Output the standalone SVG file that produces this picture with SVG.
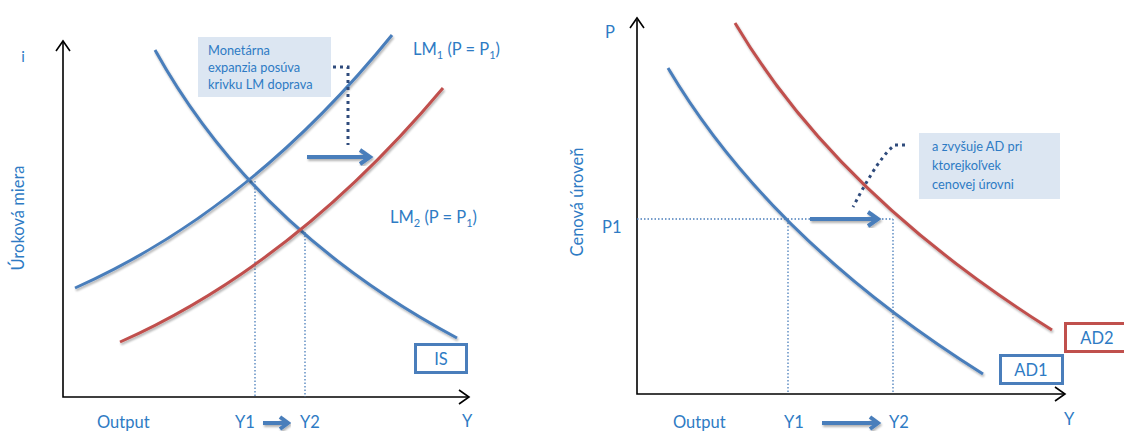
<svg xmlns="http://www.w3.org/2000/svg" width="1124" height="432" viewBox="0 0 1124 432">
<defs>
<style>
.t{font-family:Lato,"Liberation Sans",sans-serif;fill:#2E7BC4}
.ax{stroke:#000;stroke-width:1.6;fill:none}
.ah{stroke:#000;stroke-width:1.6;fill:none}
.cb{stroke:#4A7EBB;stroke-width:3;fill:none;filter:url(#sh)}
.cr{stroke:#C0504D;stroke-width:3;fill:none;filter:url(#sh)}
.gd{stroke:#4A7EBB;stroke-width:1.3;stroke-dasharray:1.5 2;fill:none}
.cn{stroke:#2F4B7C;stroke-width:3;stroke-dasharray:3 4;fill:none}
.box{fill:#DCE6F2}
.arr{stroke:#4A7EBB;stroke-width:4;fill:none;filter:url(#sh)}
</style>
<filter id="sh" x="-10%" y="-10%" width="120%" height="120%">
<feGaussianBlur in="SourceAlpha" stdDeviation="1.2"/>
<feOffset dx="1" dy="2" result="o"/>
<feComponentTransfer><feFuncA type="linear" slope="0.3"/></feComponentTransfer>
<feMerge><feMergeNode/><feMergeNode in="SourceGraphic"/></feMerge>
</filter>
</defs>

<!-- LEFT PANEL -->
<g id="left-axes">
<path class="ax" d="M63,41 V397 H469"/>
<path class="ah" d="M56,51 L63,41 L70,51"/>
<path class="ah" d="M459,390 L469,397 L459,404"/>
</g>
<g id="left-labels">
<text class="t" x="23" y="62" font-size="15" text-anchor="middle">i</text>
<text class="t" font-size="16.5" text-anchor="middle" transform="translate(24,218) rotate(-90)">Úroková miera</text>
<text class="t" x="97" y="428" font-size="16.5">Output</text>
<text class="t" x="235" y="428" font-size="16.5">Y1</text>
<text class="t" x="300" y="428" font-size="16.5">Y2</text>
<text class="t" x="462" y="427" font-size="16.5">Y</text>
</g>
<g id="guides-left">
<path class="gd" d="M255,181 V397 M305,232 V397"/>
</g>
<g id="IS">
<path class="cb" d="M155,50 Q255,230 457,338"/>
<rect x="415.5" y="344.5" width="51" height="28" fill="#fff" stroke="#4A7EBB" stroke-width="3"/>
<text class="t" x="441" y="365" font-size="16.5" text-anchor="middle">IS</text>
</g>
<g id="LM1">
<path class="cb" d="M75,288 Q250,210 392,35"/>
<text class="t" x="413" y="55" font-size="16.5">LM<tspan font-size="11" dy="4">1</tspan><tspan dy="-4"> (P = P</tspan><tspan font-size="11" dy="4">1</tspan><tspan dy="-4">)</tspan></text>
</g>
<g id="LM2">
<path class="cr" d="M120,342 Q295,264 443,88"/>
<text class="t" x="390" y="223" font-size="16.5">LM<tspan font-size="11" dy="4">2</tspan><tspan dy="-4"> (P = P</tspan><tspan font-size="11" dy="4">1</tspan><tspan dy="-4">)</tspan></text>
</g>
<g id="callout-left">
<rect class="box" x="198" y="37" width="133" height="60"/>
<text class="t" font-size="12.8"><tspan x="208" y="55">Monetárna</tspan><tspan x="208" y="72">expanzia posúva</tspan><tspan x="208" y="89">krivku LM doprava</tspan></text>
</g>

<!-- RIGHT PANEL -->
<g id="right-axes">
<path class="ax" d="M637,20 V394 H1065"/>
<path class="ah" d="M630,28 L637,18 L644,28"/>
<path class="ah" d="M1055,387 L1065,394 L1055,401"/>
</g>
<g id="right-labels">
<text class="t" x="605" y="38" font-size="16.5">P</text>
<text class="t" font-size="16.5" text-anchor="middle" transform="translate(583,202) rotate(-90)">Cenová úroveň</text>
<text class="t" x="602" y="233" font-size="16.5">P1</text>
<text class="t" x="673" y="428" font-size="16.5">Output</text>
<text class="t" x="784" y="428" font-size="16.5">Y1</text>
<text class="t" x="889" y="428" font-size="16.5">Y2</text>
<text class="t" x="1064" y="425" font-size="16.5">Y</text>
</g>
<g id="guides-right">
<path class="gd" d="M637,219 H893 M788,219 V394 M893,219 V394"/>
</g>
<g id="AD1">
<path class="cb" d="M668,68 Q770,240 983,374"/>
<rect x="1000.5" y="355.5" width="62" height="28" fill="#fff" stroke="#4A7EBB" stroke-width="3"/>
<text class="t" x="1031" y="376" font-size="16.5" text-anchor="middle">AD1</text>
</g>
<g id="AD2">
<path class="cr" d="M735,23 Q837,195 1052,330"/>
<rect x="1065.5" y="323.5" width="62" height="28" fill="#fff" stroke="#C0504D" stroke-width="3"/>
<text class="t" x="1097" y="344" font-size="16.5" text-anchor="middle">AD2</text>
</g>
<g id="callout-right">
<rect class="box" x="919" y="133" width="141" height="66"/>
<text class="t" font-size="12.8"><tspan x="932" y="151">a zvyšuje AD pri</tspan><tspan x="932" y="170">ktorejkoľvek</tspan><tspan x="932" y="189">cenovej úrovni</tspan></text>
</g>

<g id="connectors">
<path class="cn" d="M333,67 H348 V145"/>
<path class="cn" d="M905,145 H895 Q880,155 853,207"/>
<path class="arr" d="M307,157 H368 M360,150 L370,157 L360,164"/>
<path class="arr" d="M810,219 H876 M868,212 L878,219 L868,226"/>
<path class="arr" d="M263,423 H286 M280,417 L288,423 L280,429"/>
<path class="arr" d="M822,423 H876 M870,417 L878,423 L870,429"/>
</g>
</svg>
